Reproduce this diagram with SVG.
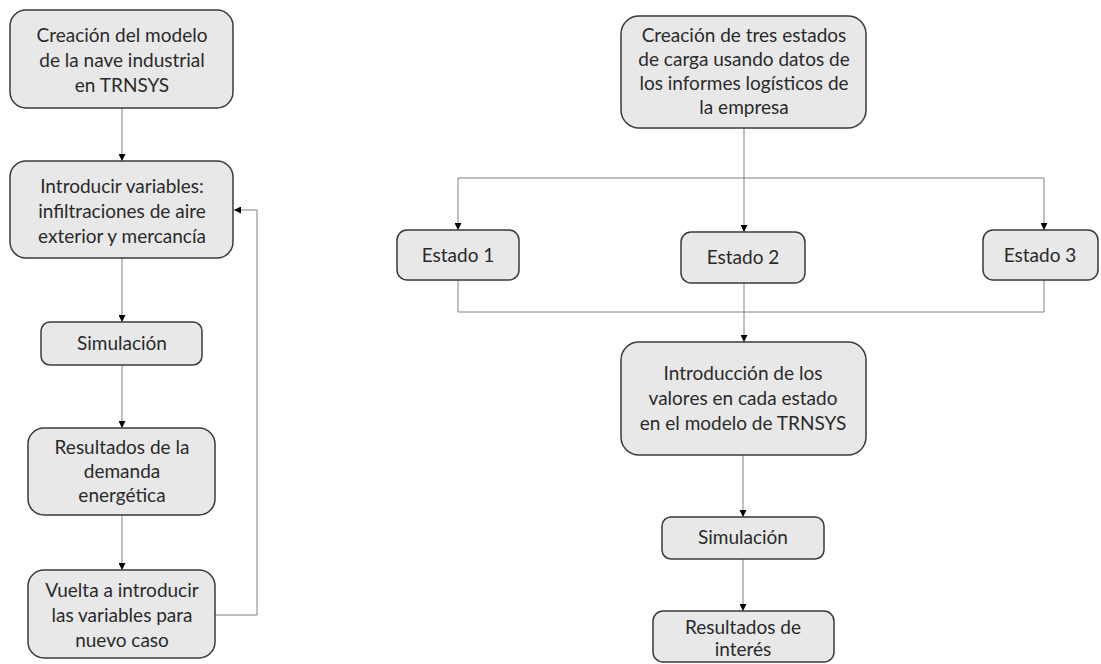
<svg xmlns="http://www.w3.org/2000/svg" width="1101" height="664" viewBox="0 0 1101 664">
<defs>
<marker id="arr" viewBox="0 0 10 10" refX="10" refY="5" markerWidth="7" markerHeight="7" markerUnits="userSpaceOnUse" orient="auto">
<path d="M0,0 L10,5 L0,10 z" fill="#000"/>
</marker>
<style>
.box{fill:#e8e8e8;stroke:#3a3a3a;stroke-width:1.5}
.t{font-family:Lato,"Open Sans",sans-serif;font-size:19px;fill:#2a2a2a;text-anchor:middle}
.c{fill:none;stroke:#808080;stroke-width:1}
.a{fill:none;stroke:#808080;stroke-width:1;marker-end:url(#arr)}
</style>
</defs>
<rect width="1101" height="664" fill="#fff"/>
<g id="connectors">
<path class="a" d="M122,108 V161"/>
<path class="a" d="M122,258 V322"/>
<path class="a" d="M122,365 V428"/>
<path class="a" d="M122,515 V570"/>
<path class="a" d="M215,615 H257 V210 H234"/>
<path class="a" d="M744,128 V232"/>
<path class="c" d="M458,178 H1044"/>
<path class="a" d="M458,178 V230"/>
<path class="a" d="M1044,178 V230"/>
<path class="c" d="M458,280 V312 H1044 V280"/>
<path class="a" d="M744,283 V342"/>
<path class="a" d="M743,455 V517"/>
<path class="a" d="M743,559 V611"/>
</g>
<g id="n1"><rect class="box" x="10" y="10" width="223" height="98" rx="16"/>
<text class="t" x="122"><tspan x="122" y="42">Creación del modelo</tspan><tspan x="122" y="67">de la nave industrial</tspan><tspan x="122" y="92">en TRNSYS</tspan></text></g>
<g id="n2"><rect class="box" x="10" y="161" width="223" height="97" rx="16"/>
<text class="t"><tspan x="122" y="193">Introducir variables:</tspan><tspan x="122" y="218">infiltraciones de aire</tspan><tspan x="122" y="243">exterior y mercancía</tspan></text></g>
<g id="n3"><rect class="box" x="41" y="322" width="161" height="43" rx="9"/>
<text class="t" x="122" y="350">Simulación</text></g>
<g id="n4"><rect class="box" x="28" y="428" width="187" height="87" rx="16"/>
<text class="t"><tspan x="122" y="454">Resultados de la</tspan><tspan x="122" y="478">demanda</tspan><tspan x="122" y="502">energética</tspan></text></g>
<g id="n5"><rect class="box" x="28" y="570" width="187" height="88" rx="16"/>
<text class="t"><tspan x="122" y="597">Vuelta a introducir</tspan><tspan x="122" y="622">las variables para</tspan><tspan x="122" y="647">nuevo caso</tspan></text></g>
<g id="n6"><rect class="box" x="621" y="16" width="245" height="112" rx="18"/>
<text class="t"><tspan x="744" y="42">Creación de tres estados</tspan><tspan x="744" y="66">de carga usando datos de</tspan><tspan x="744" y="90">los informes logísticos de</tspan><tspan x="744" y="114">la empresa</tspan></text></g>
<g id="n7"><rect class="box" x="397" y="230" width="122" height="50" rx="10"/>
<text class="t" x="458" y="262">Estado 1</text></g>
<g id="n8"><rect class="box" x="681" y="232" width="124" height="51" rx="10"/>
<text class="t" x="743" y="264">Estado 2</text></g>
<g id="n9"><rect class="box" x="983" y="230" width="115" height="50" rx="10"/>
<text class="t" x="1040" y="262">Estado 3</text></g>
<g id="n10"><rect class="box" x="621" y="342" width="245" height="113" rx="18"/>
<text class="t"><tspan x="743" y="380">Introducción de los</tspan><tspan x="743" y="405">valores en cada estado</tspan><tspan x="743" y="430">en el modelo de TRNSYS</tspan></text></g>
<g id="n11"><rect class="box" x="662" y="517" width="162" height="42" rx="9"/>
<text class="t" x="743" y="544">Simulación</text></g>
<g id="n12"><rect class="box" x="653" y="611" width="181" height="51" rx="10"/>
<text class="t"><tspan x="743" y="634">Resultados de</tspan><tspan x="743" y="656">interés</tspan></text></g>
</svg>
